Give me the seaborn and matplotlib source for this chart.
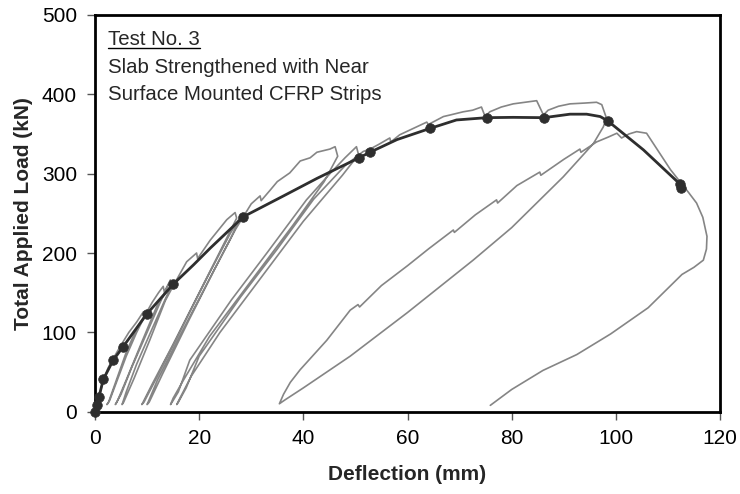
import numpy as np
import pandas as pd
import seaborn as sns
import matplotlib
matplotlib.use('Agg')
import matplotlib.pyplot as plt
from matplotlib.lines import Line2D

# grey load-deflection record (cyclic test)
grey_x = [0, 0.4, 0.8, 1.5, 2.5, 3.5, 5.0, 6.5, 8.0, 9.3, 9.6,
          8.0, 6.0, 4.0, 2.8, 2.3,
          2.6, 4.0, 6.0, 8.0, 9.8,
          11.0, 12.2, 13.1, 13.3, 14.5,
          13.0, 10.0, 7.0, 5.0, 3.9,
          4.2, 6.0, 9.0, 12.0, 15.0,
          13.5, 11.0, 8.0, 6.0, 5.2,
          5.5, 7.5, 10.5, 13.5, 15.3,
          17.6, 19.5, 19.7, 22.1, 25.3, 26.9, 27.2,
          25.0, 20.0, 15.0, 11.0, 9.0,
          9.4, 12.0, 17.0, 22.0, 26.0, 28.3,
          26.0, 21.0, 16.0, 12.0, 10.0,
          10.4, 13.0, 18.0, 23.0, 27.0, 28.7,
          30.0, 31.7, 31.9, 33.6, 35.0, 37.4, 39.4, 41.3, 42.6, 45.1, 46.1, 46.6,
          44.0, 38.0, 30.0, 22.0, 17.0, 15.0, 14.5,
          14.8, 16.0, 18.2, 26.2, 33.0, 40.6, 45.1, 48.0, 50.2, 50.6,
          47.5, 40.0, 32.0, 24.0, 18.5, 16.3, 15.7,
          16.0, 17.5, 20.0, 28.0, 35.0, 42.0, 48.0, 51.5, 52.8,
          54.5, 56.6, 56.8, 58.5, 59.8, 61.8, 63.7, 64.0, 66.9, 68.2, 70.7, 72.5,
          74.2, 74.9, 75.8, 78.0, 80.3, 82.5, 84.8, 86.1, 87.0, 89.0, 91.2, 94.0,
          96.3, 97.3, 98.2,
          97.6, 95.7, 89.9, 80.0, 72.6, 60.0, 49.0, 40.0, 36.5, 35.4,
          36.2, 37.5, 39.4, 44.5, 49.0, 50.5, 50.8, 55.0, 60.0, 64.0, 68.8, 69.0,
          73.0, 77.1, 77.3, 81.0, 85.4, 85.6, 90.0, 93.1, 93.3, 96.3, 98.5, 100.2,
          101.1, 102.5, 104.0, 105.9,
          108.5, 110.5, 112.3, 114.0, 115.5, 116.7, 117.5, 117.4, 116.8, 115.0,
          112.7, 106.2, 99.0, 92.5, 86.0, 80.0, 75.9]
grey_y = [0, 8, 18, 38, 55, 67, 84, 100, 113, 126, 121,
          100, 70, 35, 14, 9,
          12, 38, 75, 105, 124,
          138, 150, 158, 151, 166,
          145, 100, 55, 22, 9,
          12, 40, 88, 135, 163,
          142, 105, 60, 25, 9,
          12, 42, 90, 140, 162,
          189, 200, 193, 216, 242, 251, 244,
          215, 150, 85, 35, 9,
          12, 45, 110, 175, 225, 250,
          218, 155, 92, 40, 9,
          12, 48, 115, 180, 230, 248,
          262, 272, 266, 279, 290, 301, 316, 320, 327, 331, 334, 322,
          290, 235, 165, 95, 40, 17, 9,
          12, 25, 65, 141, 200, 267, 300, 320, 334, 324,
          298, 240, 170, 100, 45, 17, 9,
          12, 30, 70, 145, 205, 268, 310, 328, 331,
          337, 345, 340, 349, 353, 359, 365, 362, 372, 374, 378, 380,
          384, 372, 378, 384, 388, 390, 392, 374, 380, 385, 388, 389,
          390, 387, 370,
          359, 338, 296, 232, 191, 125, 70, 30, 15, 10,
          22, 37, 53, 90, 128, 135, 132, 159, 184, 205, 229, 226,
          248, 267, 263, 285, 302, 298, 318, 331, 327, 340, 346, 351,
          345, 350, 353, 351,
          325, 305, 290, 276, 263, 245, 221, 205, 191, 182,
          173, 131, 98, 72, 52, 28, 8]

# envelope markers
env_x = [0, 0.3, 0.77, 1.6, 3.5, 5.3, 9.9, 15.0, 28.5, 50.75, 52.8, 64.3,
         75.2, 86.2, 98.4, 112.3, 112.5]
env_y = [0, 8.4, 18.9, 40.8, 65, 81, 122.8, 160.6, 245.8, 320.2, 327, 357,
         370.6, 370.6, 366.8, 287, 282.5]

# smoothed envelope line
env_line_x = [0, 0.3, 0.77, 1.6, 3.5, 5.3, 9.9, 15.0, 18.9, 22.1, 28.5, 36.2,
              42.6, 50.75, 52.8, 58.0, 64.3, 69.4, 75.2, 80.3, 86.2, 91.2, 94.4,
              97.0, 98.4, 105.3, 112.3, 112.5]
env_line_y = [0, 8.4, 18.9, 40.8, 65, 81, 122.8, 160.6, 185, 206, 245.8, 272,
              294, 320.2, 327, 343, 357, 367.7, 370.6, 371, 370.6, 375, 375,
              372, 366.8, 330, 287, 282.5]

x_ticks = [0, 20, 40, 60, 80, 100, 120]
y_ticks = [0, 100, 200, 300, 400, 500]

sns.set_theme(style='white')
plt.rcParams['font.family'] = ['Liberation Sans', 'DejaVu Sans']

fig = plt.figure(figsize=(7.4, 4.94), dpi=100)
ax = fig.add_axes([95 / 740, 1 - 411.7 / 494, 625 / 740, 396.7 / 494])

grey = pd.DataFrame({'x': grey_x, 'y': grey_y})
sns.lineplot(data=grey, x='x', y='y', sort=False, estimator=None,
             color='#858585', linewidth=1.2, ax=ax)

env_line = pd.DataFrame({'x': env_line_x, 'y': env_line_y})
sns.lineplot(data=env_line, x='x', y='y', sort=False, estimator=None,
             color='#2e2e2e', linewidth=2.0, ax=ax)
env = pd.DataFrame({'x': env_x, 'y': env_y})
sns.scatterplot(data=env, x='x', y='y', color='#2e2e2e', s=48,
                edgecolor='#2e2e2e', linewidth=0.5, zorder=5, clip_on=False, ax=ax)

ax.set_xlim(0, 120)
ax.set_ylim(0, 500)
ax.set_xticks(x_ticks)
ax.set_yticks(y_ticks)
ax.tick_params(axis='both', direction='out', length=5.5, width=1, color='#555555',
               labelsize=15, labelcolor='black')
ax.tick_params(axis='x', pad=7)
ax.tick_params(axis='y', pad=7.5)
ax.tick_params(bottom=True, left=True)
for sp in ax.spines.values():
    sp.set_color('black')
    sp.set_linewidth(2)

ax.set_xlabel('Deflection (mm)', fontsize=15, fontweight='bold')
ax.set_ylabel('Total Applied Load (kN)', fontsize=15, fontweight='bold')
ax.xaxis.set_label_coords(0.5, -0.135)
ax.yaxis.set_label_coords(-0.099, 0.5)

t1 = ax.text(0.021, 0.9244, 'Test No. 3', transform=ax.transAxes,
             fontsize=14.7, va='baseline', ha='left')
ax.text(0.021, 0.855, 'Slab Strengthened with Near', transform=ax.transAxes,
        fontsize=14.7, va='baseline', ha='left')
ax.text(0.021, 0.7857, 'Surface Mounted CFRP Strips', transform=ax.transAxes,
        fontsize=14.7, va='baseline', ha='left')

# underline the test title
fig.canvas.draw()
bb = t1.get_window_extent().transformed(ax.transAxes.inverted())
ax.add_line(Line2D([bb.x0, bb.x1], [0.9244 - 0.008, 0.9244 - 0.008],
                   transform=ax.transAxes, color='black', linewidth=1.0))

fig.savefig('out.png', dpi=100)
